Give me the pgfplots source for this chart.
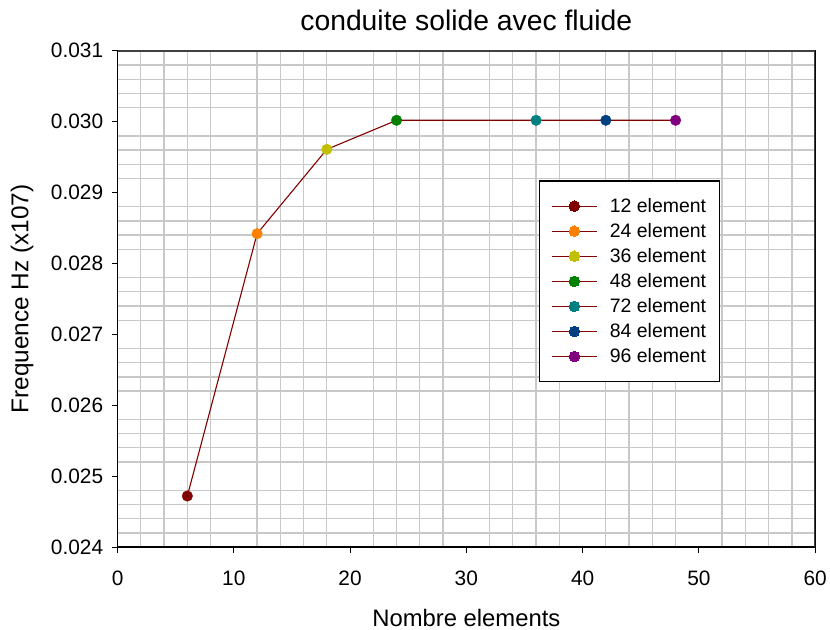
\documentclass[border=0pt]{standalone}
\usepackage{pgfplots}
\pgfplotsset{compat=1.18}
\usepackage{fontspec}
\setmainfont{Liberation Sans}
\definecolor{dred}{HTML}{800000}
\definecolor{c1}{HTML}{800000}
\definecolor{c2}{HTML}{FF8000}
\definecolor{c3}{HTML}{C0C000}
\definecolor{c4}{HTML}{008000}
\definecolor{c5}{HTML}{008080}
\definecolor{c6}{HTML}{004080}
\definecolor{c7}{HTML}{800080}
\definecolor{gridc}{HTML}{C8C8C8}
\begin{document}
\begin{tikzpicture}
\begin{axis}[
  scale only axis,
  width=700bp, height=498bp,
  xmin=0, xmax=60, ymin=0.024, ymax=0.031,
  xtick={0,10,20,30,40,50,60},
  ytick={0.024,0.025,0.026,0.027,0.028,0.029,0.030,0.031},
  minor xtick={2,4,6,8,12,14,16,18,22,24,26,28,32,34,36,38,42,44,46,48,52,54,56,58},
  minor ytick={0.0242,0.0244,0.0246,0.0248,0.0252,0.0254,0.0256,0.0258,0.0262,0.0264,0.0266,0.0268,0.0272,0.0274,0.0276,0.0278,0.0282,0.0284,0.0286,0.0288,0.0292,0.0294,0.0296,0.0298,0.0302,0.0304,0.0306,0.0308},
  minor grid style={gridc, line width=1.3bp},
  xminorgrids=true, yminorgrids=true,
  xmajorgrids=false, ymajorgrids=false,
  xtick pos=bottom, ytick pos=left,
  tick align=outside, major tick length=6bp, minor tick length=0pt,
  tick style={black, line width=1bp},
  axis line style={black, line width=1.3bp},
  scaled y ticks=false,
  /pgf/number format/assume math mode=true,
  yticklabel style={/pgf/number format/fixed, /pgf/number format/fixed zerofill, /pgf/number format/precision=3},
  ticklabel style={font=\fontsize{21}{24}\selectfont},
  xticklabel style={yshift=-14bp},
  yticklabel style={xshift=-5bp},
  title={conduite solide avec fluide},
  title style={at={(axis description cs:0.5,1.050)}, anchor=center, font=\fontsize{28.5}{32}\selectfont},
  xlabel={Nombre elements},
  xlabel style={at={(axis description cs:0.5,-0.1426)}, anchor=center, font=\fontsize{24}{28}\selectfont},
  ylabel={Frequence Hz (x107)},
  ylabel style={at={(axis description cs:-0.137,0.5)}, anchor=center, rotate=0, font=\fontsize{24.5}{28}\selectfont},
  legend style={at={(axis description cs:0.604,0.739)}, anchor=north west, draw=black, line width=1.2bp, fill=white,
    font=\fontsize{19.6}{22}\selectfont, row sep=6.5bp, inner xsep=12bp, inner ysep=16bp,
    nodes={inner sep=1.5bp}},
  legend cell align=left,
  legend image code/.code={\draw[dred, line width=1bp] (0bp,0bp) -- (45bp,0bp); \draw[#1, line width=0pt] plot coordinates {(22.5bp,0bp)}; \path (56bp,0bp);},
]
\addplot[dred, line width=1.1bp, forget plot] coordinates {(6,0.02472) (12,0.02842) (18,0.02961) (24,0.03002) (36,0.03002) (42,0.03002) (48,0.03002)};
\addplot[dred, only marks, mark=*, mark size=5.3bp, mark options={fill=c1, draw=c1}] coordinates {(6,0.02472)};
\addlegendentry{12 element}
\addplot[dred, only marks, mark=*, mark size=5.3bp, mark options={fill=c2, draw=c2}] coordinates {(12,0.02842)};
\addlegendentry{24 element}
\addplot[dred, only marks, mark=*, mark size=5.3bp, mark options={fill=c3, draw=c3}] coordinates {(18,0.02961)};
\addlegendentry{36 element}
\addplot[dred, only marks, mark=*, mark size=5.3bp, mark options={fill=c4, draw=c4}] coordinates {(24,0.03002)};
\addlegendentry{48 element}
\addplot[dred, only marks, mark=*, mark size=5.3bp, mark options={fill=c5, draw=c5}] coordinates {(36,0.03002)};
\addlegendentry{72 element}
\addplot[dred, only marks, mark=*, mark size=5.3bp, mark options={fill=c6, draw=c6}] coordinates {(42,0.03002)};
\addlegendentry{84 element}
\addplot[dred, only marks, mark=*, mark size=5.3bp, mark options={fill=c7, draw=c7}] coordinates {(48,0.03002)};
\addlegendentry{96 element}
\draw[color=black!75, line width=1.5bp] (rel axis cs:0,1) -- (rel axis cs:1,1) -- (rel axis cs:1,0);
\end{axis}
\path (current axis.south west) ++(-118bp,-83bp) rectangle ++(830bp,632bp);
\end{tikzpicture}
\end{document}
